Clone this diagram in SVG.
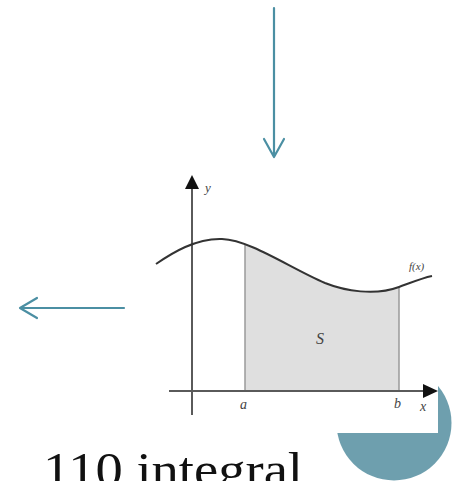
<svg xmlns="http://www.w3.org/2000/svg" width="454" height="481" viewBox="0 0 454 481">
<defs>
<style>
.teal{stroke:#4b8fa3;stroke-width:2.2;fill:none;stroke-linecap:round;stroke-linejoin:round}
.axis{stroke:#5a5a5a;stroke-width:2;fill:none}
.lbl{font-family:"Liberation Serif",serif;font-style:italic;fill:#444}
</style>
<clipPath id="band"><rect x="245" y="200" width="154" height="191"/></clipPath>
</defs>
<rect width="454" height="481" fill="#fff"/>
<g id="corner-circle">
<circle cx="394" cy="423" r="57.5" fill="#6e9fae"/>
<rect x="325" y="355" width="113" height="78" fill="#fff"/>
</g>
<g id="graph">
<path d="M156,264 C172,253 196,238 222,239 C250,240 290,268 325,283 C345,291 375,296 399,287 L399,391 L156,391 Z" fill="#dfdfdf" clip-path="url(#band)"/>
<line x1="245" y1="244" x2="245" y2="391" stroke="#9a9a9a" stroke-width="1.5"/>
<line x1="399" y1="287" x2="399" y2="391" stroke="#9a9a9a" stroke-width="1.5"/>
<line class="axis" x1="192" y1="186" x2="192" y2="415"/>
<polygon points="192,175 185,189 199,189" fill="#111"/>
<line class="axis" x1="169" y1="391" x2="424" y2="391"/>
<polygon points="438,391 423,384 423,398" fill="#111"/>
<path d="M156,264 C172,253 196,238 222,239 C250,240 290,268 325,283 C345,291 375,296 399,287 C410,283 422,278 432,276" stroke="#333" stroke-width="2" fill="none"/>
<text class="lbl" x="205" y="192" font-size="13">y</text>
<text class="lbl" x="409" y="270" font-size="11">f(x)</text>
<text class="lbl" x="316" y="344" font-size="16">S</text>
<text class="lbl" x="240" y="409" font-size="14">a</text>
<text class="lbl" x="394" y="408" font-size="14">b</text>
<text class="lbl" x="420" y="411" font-size="14">x</text>
</g>
<g id="connectors">
<path class="teal" d="M274,8 L274,156 M264,139 L274,157 L284,139"/>
<path class="teal" d="M124,308 L21,308 M37,298 L20,308 L37,318"/>
</g>
<g id="caption">
<text x="43" y="486" font-family="'Liberation Serif',serif" font-size="48" fill="#111" textLength="260" lengthAdjust="spacingAndGlyphs">110 integral</text>
</g>
</svg>
